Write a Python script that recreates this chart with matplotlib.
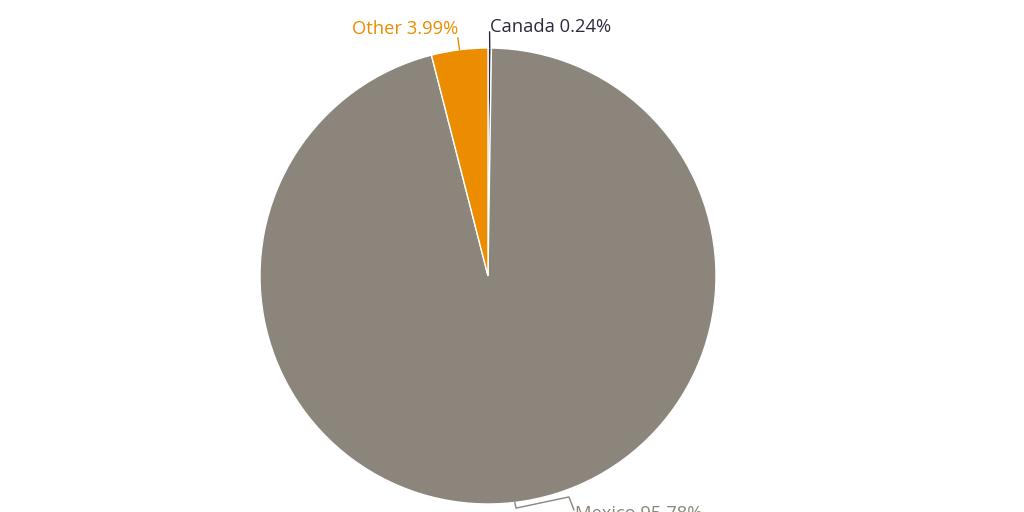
import numpy as np
import matplotlib
matplotlib.use("Agg")
import matplotlib.pyplot as plt

labels = ["Canada", "Mexico", "Other"]
shares = [0.24, 95.78, 3.99]
colors = ["#2c2a3f", "#8b857c", "#ec8c00"]
text_colors = ["#2c2a3f", "#8b857c", "#ec8c00"]

plt.rcParams["font.family"] = ["Open Sans", "DejaVu Sans"]

fig = plt.figure(figsize=(10.24, 5.12), dpi=100)
ax = fig.add_axes([260 / 1024, 8 / 512, 456 / 1024, 456 / 512])

wedges, _ = ax.pie(
    shares,
    colors=colors,
    startangle=90,
    counterclock=False,
    radius=1.0,
    wedgeprops=dict(edgecolor="white", linewidth=1.0),
)
ax.set_xlim(-1, 1)
ax.set_ylim(-1, 1)
ax.set_aspect("equal")
ax.axis("off")


def edge_point(w):
    mid = np.deg2rad((w.theta1 + w.theta2) / 2)
    return np.cos(mid), np.sin(mid)


# Canada
x0, y0 = edge_point(wedges[0])
ax.plot([x0, 0.007], [y0, 1.07], color=text_colors[0], lw=1, clip_on=False)
ax.text(0.009, 1.09, f"{labels[0]} {shares[0]:.2f}%", color=text_colors[0],
        fontsize=13.2, ha="left", va="center", clip_on=False)

# Other
x0, y0 = edge_point(wedges[2])
ax.plot([x0, -0.132], [y0, 1.044], color=text_colors[2], lw=1, clip_on=False)
ax.text(-0.13, 1.083, f"{labels[2]} {shares[2]:.2f}%", color=text_colors[2],
        fontsize=13.2, ha="right", va="center", clip_on=False)

# Mexico (label runs off the bottom edge, as in the source)
x0, y0 = edge_point(wedges[1])
ax.plot([x0, 0.123, 0.355, 0.377], [y0, -1.018, -0.969, -1.026],
        color=text_colors[1], lw=1, clip_on=False)
ax.text(0.382, -1.045, f"{labels[1]} {shares[1]:.2f}%", color=text_colors[1],
        fontsize=13.2, ha="left", va="center", clip_on=False)

fig.savefig("out.png", dpi=100)
